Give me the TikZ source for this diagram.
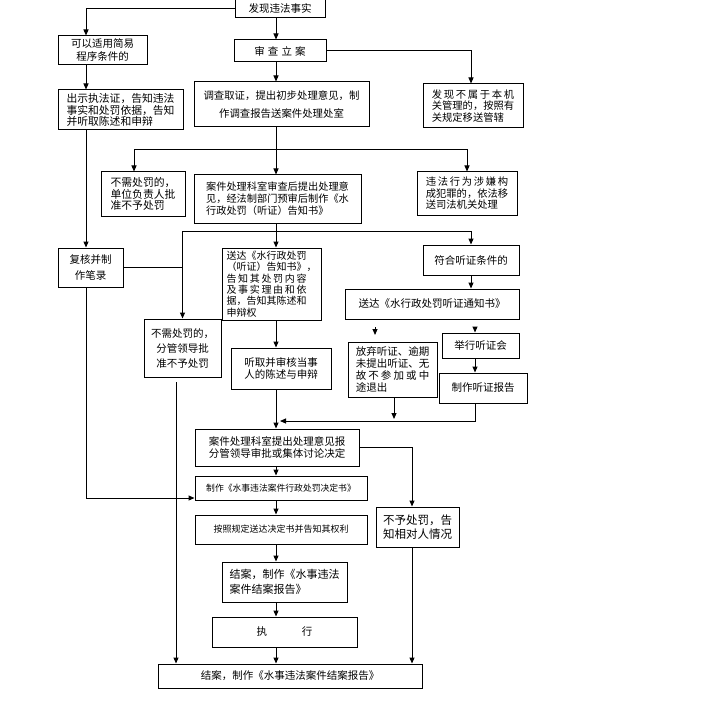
\documentclass[tikz,border=0pt]{standalone}
\usepackage{fontspec}
\setmainfont{Noto Sans CJK SC}
\usetikzlibrary{arrows.meta}
\def\sprfirst#1{#1\sprrest}
\def\sprrest#1{\ifx#1\relax\else\hfill#1\expandafter\sprrest\fi}
\newcommand\spr[2]{\makebox[#1em][s]{\sprfirst#2\relax}}
\newcommand\mybox[7][]{%
  \pgfmathsetmacro\bw{#5-#3}\pgfmathsetmacro\bh{#6-#4}%
  \node[box,minimum width=\bw pt,minimum height=\bh pt,#1] (#2) at ({(#3+#5)/2},{(#4+#6)/2}) {#7};}
\begin{document}
\begin{tikzpicture}[x=1pt,y=-1pt,
  box/.style={draw,line width=1pt,inner sep=0pt,font=\fontsize{10.5}{12}\selectfont},
  arr/.style={line width=1pt,-{Triangle[length=6pt,width=5pt]}},
  ln/.style={line width=1pt}]
\useasboundingbox[fill=white] (0,0) rectangle (709,714);

\mybox{find}{235}{-2}{325}{18}{发现违法事实}
\mybox[align=center,font=\fontsize{10.5}{13}\selectfont]{simple}{58}{36}{147}{65}{可以适用简易\\程序条件的}
\mybox[align=left,font=\fontsize{10.8}{11.5}\selectfont]{show}{58}{90}{183}{130}{出示执法证，告知违法\\事实和处罚依据，告知\\并听取陈述和申辩}
\mybox{review}{234}{40}{326}{62}{\spr{4.9}{审查立案}}
\mybox[align=center,font=\fontsize{10.4}{18}\selectfont]{investigate}{194}{82}{369}{127}{调查取证，提出初步处理意见，制\\作调查报告送案件处理处室}
\mybox[align=left,font=\fontsize{10.3}{11.5}\selectfont]{notours}{423}{84}{523}{128}{\spr{8}{发现不属于本机}\\关管理的，按照有\\关规定移送管辖}
\mybox[align=left,font=\fontsize{10.8}{11.8}\selectfont]{nopen1}{101}{172}{185}{216}{不需处罚的，\\单位负责人批\\准不予处罚}
\mybox[align=left,font=\fontsize{10.2}{12}\selectfont]{case}{194}{175}{361}{223}{案件处理科室审查后提出处理意\\见，经法制部门预审后制作《水\\行政处罚（听证）告知书》}
\mybox[align=left,font=\fontsize{10.3}{11.5}\selectfont]{crime}{417}{172}{517}{215}{\spr{8}{违法行为涉嫌构}\\成犯罪的，依法移\\送司法机关处理}
\mybox[align=center,font=\fontsize{10.5}{16}\selectfont]{recheck}{58}{248}{123}{287}{复核并制\\作笔录}
\mybox[align=left,font=\fontsize{10}{11.3}\selectfont]{notice}{222}{248}{321}{320}{送达《水行政处罚\\（听证）告知书》，\\\spr{8}{告知其处罚内容}\\\spr{8}{及事实理由和依}\\据，告知其陈述和\\申辩权}
\mybox[align=center,font=\fontsize{10.5}{15}\selectfont]{nopen2}{144}{319}{221}{377}{不需处罚的，\\分管领导批\\准不予处罚}
\mybox[align=center,font=\fontsize{10.5}{12}\selectfont]{listen}{231}{348}{331}{389}{听取并审核当事\\人的陈述与申辩}
\mybox{hearcond}{423}{245}{519}{275}{符合听证条件的}
\mybox{hearnotice}{345}{289}{519}{319}{送达《水行政处罚听证通知书》}
\mybox[align=left,font=\fontsize{10.5}{11.7}\selectfont]{giveup}{348}{342}{437}{397}{放弃听证、逾期\\未提出听证、无\\\spr{7}{故不参加或中}\\途退出}
\mybox{hold}{442}{333}{519}{358}{举行听证会}
\mybox{report}{439}{373}{527}{403}{制作听证报告}
\mybox[align=center,font=\fontsize{10.5}{11.5}\selectfont]{proc2}{195}{429}{359}{466}{案件处理科室提出处理意见报\\分管领导审批或集体讨论决定}
\mybox[font=\fontsize{8.8}{10}\selectfont]{decision}{195}{476}{367}{500}{制作《水事违法案件行政处罚决定书》}
\mybox[font=\fontsize{9}{10}\selectfont]{deliver}{195}{515}{367}{544}{按照规定送达决定书并告知其权利}
\mybox[align=left,font=\fontsize{11.5}{14}\selectfont]{nopun}{376}{507}{459}{547}{不予处罚，告\\知相对人情况}
\mybox[align=left,font=\fontsize{11}{15.5}\selectfont]{close1}{222}{562}{347}{602}{结案，制作《水事违法\\案件结案报告》}
\mybox{exec}{212}{617}{357}{647}{执\hspace{3.3em}行}
\mybox{final}{158}{664}{422}{688}{结案，制作《水事违法案件结案报告》}

\coordinate (cL) at (86,0);
\coordinate (c134) at (134,0);
\coordinate (m) at (276,0);
\coordinate (c394) at (394,0);
\coordinate (c412) at (412,0);
\coordinate (c471) at (471,0);
\coordinate (c475) at (475,0);
\coordinate (r9) at (0,9);
\coordinate (j1) at (276,150);
\coordinate (j2) at (276,231);
\coordinate (j3) at (280,421);
\coordinate (r497) at (0,498);
\coordinate (g1) at (176,382);
\coordinate (s1) at (375,327);
\coordinate (e1) at (375,335);
\coordinate (s2) at (475,327);
\coordinate (e2) at (394,419);

\draw[arr] (find.west |- r9) -| (simple.north -| cL);
\draw[arr] (simple.south -| cL) -- (show.north -| cL);
\draw[arr] (show.south -| cL) -- (recheck.north -| cL);
\draw[arr] (recheck.south -| cL) |- (decision.west |- r497);
\draw[arr] (find.south -| m) -- (review.north -| m);
\draw[arr] (review.east) -| (notours.north -| c471);
\draw[arr] (review.south -| m) -- (investigate.north -| m);
\draw[ln] (investigate.south -| m) -- (j1);
\draw[arr] (j1) -- (case.north -| m);
\draw[arr] (j1) -| (nopen1.north -| c134);
\draw[arr] (j1) -| (crime.north);
\draw[ln] (case.south -| m) -- (j2);
\draw[arr] (j2) -- (notice.north -| m);
\draw[arr] (j2) -| (nopen2.north);
\draw[arr] (j2) -| (hearcond.north);
\draw[ln] (recheck.east) -- (recheck.east -| nopen2.north);
\draw[arr] (g1) -- (final.north -| g1);
\draw[arr] (notice.south -| m) -- (listen.north -| m);
\draw[arr] (listen.south -| m) -- (proc2.north -| m);
\draw[arr] (hearcond.south) -- (hearnotice.north -| hearcond.south);
\draw[arr] (s1) -- (e1);
\draw[arr] (s2) -- (hold.north -| s2);
\draw[arr] (hold.south -| c475) -- (report.north -| c475);
\draw[arr] (giveup.south -| c394) -- (e2);
\draw[arr] (report.south -| c475) |- (j3);
\draw[arr] (proc2.east) -| (nopun.north -| c412);
\draw[arr] (proc2.south -| m) -- (decision.north -| m);
\draw[arr] (decision.south -| m) -- (deliver.north -| m);
\draw[arr] (deliver.south -| m) -- (close1.north -| m);
\draw[arr] (close1.south -| m) -- (exec.north -| m);
\draw[arr] (exec.south -| m) -- (final.north -| m);
\draw[arr] (nopun.south -| c412) -- (final.north -| c412);
\end{tikzpicture}
\end{document}
